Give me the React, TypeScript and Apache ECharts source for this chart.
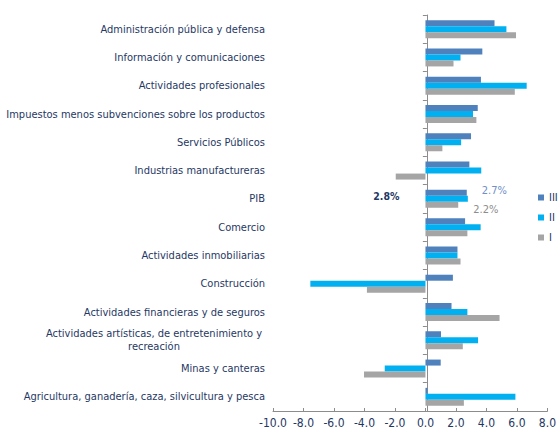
import React, { useEffect, useRef } from "react";
import * as echarts from "echarts";

const categories = [
  "Administración pública y defensa",
  "Información y comunicaciones",
  "Actividades profesionales",
  "Impuestos menos subvenciones sobre los productos",
  "Servicios Públicos",
  "Industrias manufactureras",
  "PIB",
  "Comercio",
  "Actividades inmobiliarias",
  "Construcción",
  "Actividades financieras y de seguros",
  "Actividades artísticas, de entretenimiento y\nrecreación",
  "Minas y canteras",
  "Agricultura, ganadería, caza, silvicultura y pesca",
];

const seriesIII = [4.53, 3.73, 3.64, 3.43, 2.99, 2.88, 2.71, 2.6, 2.1, 1.8, 1.71, 1.02, 1.0, 0.13];
const seriesII = [5.31, 2.3, 6.64, 3.12, 2.34, 3.66, 2.78, 3.62, 2.1, -7.55, 2.75, 3.45, -2.67, 5.9];
const seriesI = [5.94, 1.84, 5.86, 3.34, 1.11, -1.95, 2.15, 2.75, 2.3, -3.84, 4.86, 2.45, -4.03, 2.52];

const xTicks = { min: -10, max: 8, interval: 2 };
const pibIndex = 6;
const pibLabels = { III: "2.7%", II: "2.8%", I: "2.2%" };

const NAVY = "#1F3864";
const FONT = "'DejaVu Sans Condensed', 'DejaVu Sans', sans-serif";

export default function App() {
  const ref = useRef<HTMLDivElement>(null);
  useEffect(() => {
    if (!ref.current) return;
    const chart = echarts.init(ref.current, undefined, { renderer: "svg" });
    const withLabel = (arr: number[], idx: number, label: any) =>
      arr.map((v, i) => (i === idx ? { value: v, label } : v));

    const grid = { left: 273, right: 9, top: 15, bottom: 17 };
    const zeroOffset = -((0 - xTicks.min) / (xTicks.max - xTicks.min)) * (559 - grid.left - grid.right);

    chart.setOption({
      animation: false,
      textStyle: { fontFamily: FONT },
      grid,
      legend: {
        orient: "vertical",
        left: 533,
        top: 187,
        itemWidth: 6,
        itemHeight: 6,
        itemGap: 9,
        icon: "rect",
        data: ["III", "II", "I"],
        textStyle: { color: NAVY, fontSize: 11, fontFamily: FONT },
        itemStyle: { borderWidth: 0 },
      },
      xAxis: {
        type: "value",
        min: xTicks.min,
        max: xTicks.max,
        interval: xTicks.interval,
        splitLine: { show: false },
        axisLine: { show: true, onZero: false, lineStyle: { color: "#8C8C8C" } },
        axisTick: { show: true, inside: true, length: 3, lineStyle: { color: "#8C8C8C" } },
        axisLabel: {
          color: NAVY,
          fontSize: 12,
          fontFamily: FONT,
          margin: 6,
          formatter: (v: number) => v.toFixed(1),
        },
      },
      yAxis: [
        {
          type: "category",
          inverse: true,
          data: categories,
          axisLine: { show: false, onZero: false },
          axisTick: { show: false },
          axisLabel: {
            color: NAVY,
            fontSize: 11,
            fontFamily: FONT,
            margin: 8,
            formatter: (v: string) =>
              v.indexOf("\n") >= 0
                ? v
                    .split("\n")
                    .map((s) => "{c|" + s + "}")
                    .join("\n")
                : v,
            rich: {
              c: { width: 222, align: "center", color: NAVY, fontSize: 11, fontFamily: FONT, lineHeight: 13 },
            },
          },
        },
        {
          type: "category",
          inverse: true,
          data: categories,
          position: "left",
          offset: zeroOffset,
          axisLine: { show: true, onZero: false, lineStyle: { color: "#8C8C8C" } },
          axisTick: { show: true, length: 4, lineStyle: { color: "#8C8C8C" } },
          axisLabel: { show: false },
        },
      ],
      series: [
        {
          name: "III",
          type: "bar",
          barWidth: 6,
          barGap: "0%",
          itemStyle: { color: "#4F81BD" },
          data: withLabel(seriesIII, pibIndex, {
            show: true,
            position: "right",
            distance: 15,
            offset: [0, -2],
            formatter: pibLabels.III,
            color: "#6F8FC8",
            fontSize: 11,
            fontFamily: FONT,
          }),
        },
        {
          name: "II",
          type: "bar",
          barWidth: 6,
          barGap: "0%",
          itemStyle: { color: "#00B0F0" },
          data: withLabel(seriesII, pibIndex, {
            show: true,
            position: "left",
            distance: 26,
            offset: [0, -3],
            formatter: pibLabels.II,
            color: NAVY,
            fontWeight: "bold",
            fontSize: 10.5,
            fontFamily: FONT,
          }),
        },
        {
          name: "I",
          type: "bar",
          barWidth: 6,
          barGap: "0%",
          itemStyle: { color: "#A5A5A5" },
          data: withLabel(seriesI, pibIndex, {
            show: true,
            position: "right",
            distance: 15,
            offset: [0, 5],
            formatter: pibLabels.I,
            color: "#8C8C8C",
            fontSize: 11,
            fontFamily: FONT,
          }),
        },
      ],
    });
    return () => chart.dispose();
  }, []);
  return <div ref={ref} style={{ width: 559, height: 429, position: "absolute", left: 0, top: 0 }} />;
}
